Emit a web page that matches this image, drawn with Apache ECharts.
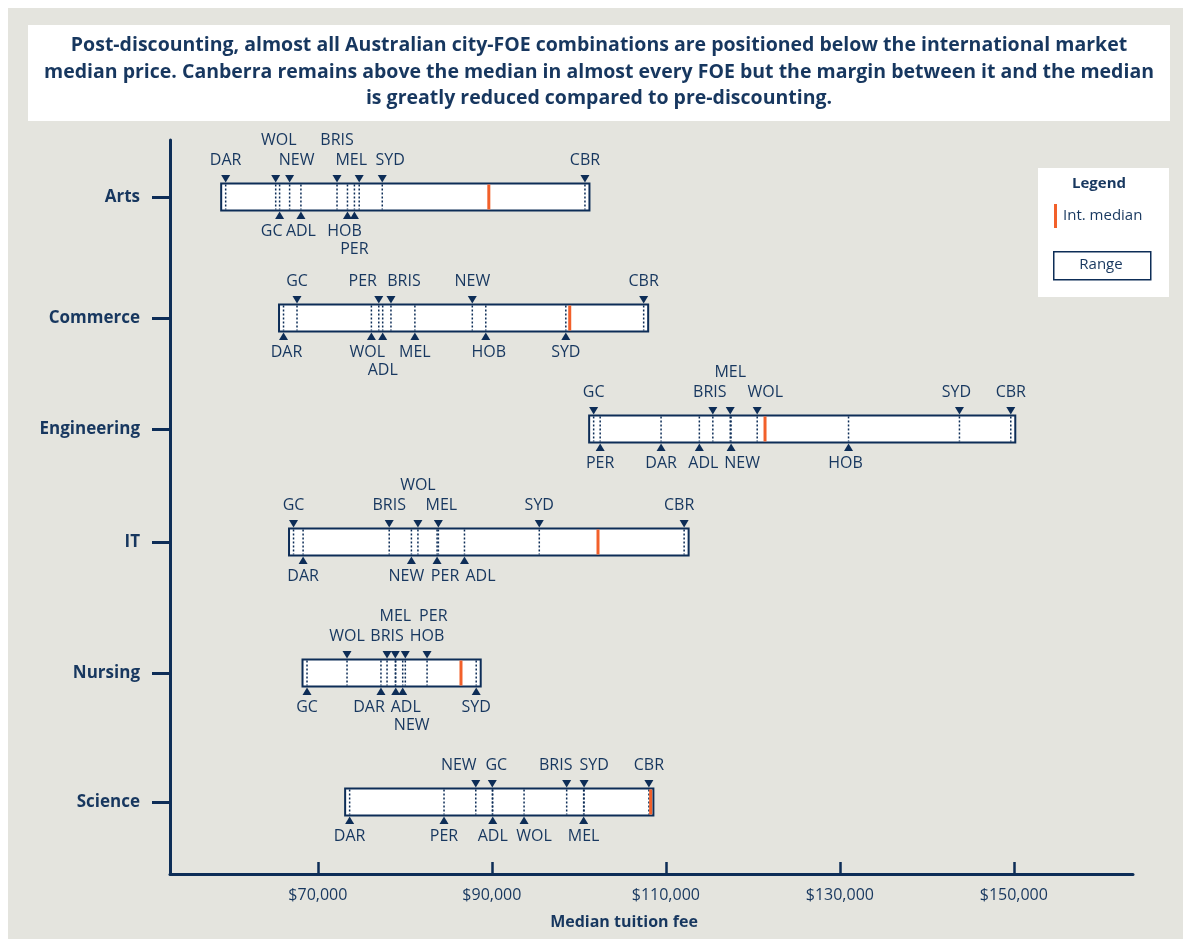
<!DOCTYPE html>
<html>
<head>
<meta charset="utf-8">
<script src="https://cdn.jsdelivr.net/npm/echarts@6/dist/echarts.min.js"></script>
<style>
  html, body { margin: 0; padding: 0; background: #ffffff; }
  #panel { position: absolute; left: 8px; top: 8px; right: 0; bottom: 0; background: #e4e4de; }
  #chart { position: absolute; left: 0; top: 0; width: 1183px; height: 939px; }
</style>
</head>
<body>
<div id="panel"></div>
<div id="chart"></div>
<script>
// Fields of education (rows) and the cities measured in each
const categories = ['Arts', 'Commerce', 'Engineering', 'IT', 'Nursing', 'Science'];
const cities = ['ADL', 'BRIS', 'CBR', 'DAR', 'GC', 'HOB', 'MEL', 'NEW', 'PER', 'SYD', 'WOL'];

// Post-discount median tuition fee per city (same order as `cities`), null = not offered
const artsFees        = [68050, 72200, 100700, 59400, 65600, 73400, 74750, 66750, 74200, 77400, 65150];
const commerceFees    = [77450, 78400, 107450, 66050, 67600, 89300, 81150, 87750, 77000, 98500, 76150];
const engineeringFees = [113850, 115400, 149650, 109450, 101700, 131000, 117400, 117500, 102450, 143750, 120500];
const itFees          = [86850, 78200, 112100, 68300, 67200, null, 83850, 80750, 83700, 95450, 81500];
const nursingFees     = [78950, 77950, null, 77250, 68750, 82550, 78900, 79750, 80050, 88200, 73350];
const scienceFees     = [90100, 98600, 108050, 73650, 90050, null, 100550, 88150, 84500, 100600, 93700];

// International market median price per field
const medianFees = [89650, 98950, 121400, 102200, 86450, 108250];

// Tick values on the fee axis
const feeTicks = [70000, 90000, 110000, 130000, 150000];

// ---- layout ----
// vertical placement of each field on the row axis
const ROW_POS = [0, 1, 1.917, 2.851, 3.934, 5];
// marker placement per city: u = above bar, d = below bar, digit = label tier, optional px nudge
const artsPlace        = ['d1', 'u2', 'u1', 'u1', 'd1-8', 'd1-3', 'u1-8', 'u1+7', 'd2', 'u1+8', 'u2+3'];
const commercePlace    = ['d2', 'u1+13', 'u1', 'd1+3', 'u1', 'd1+3', 'd1', 'u1', 'u1-16', 'd1', 'd1-4'];
const engineeringPlace = ['d1+4', 'u1-3', 'u1', 'd1', 'u1', 'd1-3', 'u2', 'd1+11', 'd1', 'u1-3', 'u1+8'];
const itPlace          = ['d1+16', 'u1', 'u1-5', 'd1', 'u1', 'd1', 'u1+3', 'd1-5', 'd1+8', 'u1', 'u2'];
const nursingPlace     = ['d1+10', 'u1', 'u1', 'd1-12', 'd1', 'u1', 'u2', 'd2+9', 'u2+28', 'd1', 'u1'];
const sciencePlace     = ['d1', 'u1-11', 'u1', 'd1', 'u1+4', 'd1', 'd1', 'u1-17', 'd1', 'u1+10', 'd1+10'];

const feesByRow = [artsFees, commerceFees, engineeringFees, itFees, nursingFees, scienceFees];
const placeByRow = [artsPlace, commercePlace, engineeringPlace, itPlace, nursingPlace, sciencePlace];

const NAVY = '#0d2d57';
const TEXT = '#17375f';
const ORANGE = '#f2602a';
const FONT = '"Open Sans", "Noto Sans", sans-serif';
const BAR_H = 27;
const PAD = 4.5;
const TIER_Y = { u1: -37, u2: -57, d1: 34, d2: 52 };

function parsePlace(code) {
  const m = code.match(/^([ud])(\d)([+-]\d+)?$/);
  return { key: m[1] + m[2], side: m[1], dx: m[3] ? parseInt(m[3], 10) : 0 };
}

function renderRow(params, api) {
  const r = api.value(2);
  const pos = ROW_POS[r];
  const fees = feesByRow[r];
  const places = placeByRow[r];
  const present = fees.filter(v => v != null);
  const lo = Math.min.apply(null, present);
  const hi = Math.max.apply(null, present);
  const pLo = api.coord([lo, pos]);
  const pHi = api.coord([hi, pos]);
  const yc = pLo[1];
  const h = BAR_H / 2;
  const children = [];

  // range box
  children.push({
    type: 'rect',
    shape: { x: pLo[0] - PAD, y: yc - h, width: pHi[0] - pLo[0] + 2 * PAD, height: BAR_H },
    style: { fill: '#ffffff', stroke: NAVY, lineWidth: 2 }
  });

  // dotted city lines
  fees.forEach(v => {
    if (v == null) return;
    const cx = api.coord([v, pos])[0];
    children.push({
      type: 'line',
      shape: { x1: cx, y1: yc - h + 1, x2: cx, y2: yc + h - 1 },
      style: { stroke: NAVY, lineWidth: 1.5, lineDash: [2, 2] }
    });
  });

  // international median
  const cm = api.coord([medianFees[r], pos])[0];
  children.push({
    type: 'rect',
    shape: { x: cm - 1.5, y: yc - h + 1, width: 3, height: BAR_H - 2 },
    style: { fill: ORANGE }
  });

  // markers and city labels
  fees.forEach((v, k) => {
    if (v == null) return;
    const cx = api.coord([v, pos])[0];
    const p = parsePlace(places[k]);
    let pts;
    if (p.side === 'u') {
      const yb = yc - h - 1;
      pts = [[cx - 4.5, yb - 7.5], [cx + 4.5, yb - 7.5], [cx, yb]];
    } else {
      const yt = yc + h + 1;
      pts = [[cx - 4.5, yt + 7.5], [cx + 4.5, yt + 7.5], [cx, yt]];
    }
    children.push({ type: 'polygon', shape: { points: pts }, style: { fill: NAVY } });
    children.push({
      type: 'text',
      style: {
        text: cities[k],
        x: cx + p.dx,
        y: yc + TIER_Y[p.key],
        align: 'center',
        verticalAlign: 'middle',
        fill: TEXT,
        fontSize: 16,
        fontFamily: FONT
      }
    });
  });

  return { type: 'group', children: children };
}

const chart = echarts.init(document.getElementById('chart'), null, { renderer: 'canvas' });

const titleText = 'Post-discounting, almost all Australian city-FOE combinations are positioned below the international market\n' +
  'median price. Canberra remains above the median in almost every FOE but the margin between it and the median\n' +
  'is greatly reduced compared to pre-discounting.';

chart.setOption({
  backgroundColor: 'transparent',
  animation: false,
  grid: { left: 170, right: 50, top: 140, bottom: 65, containLabel: false },
  xAxis: {
    type: 'value',
    min: 53000,
    max: 163700,
    splitLine: { show: false },
    axisLine: { show: true, onZero: false, lineStyle: { color: NAVY, width: 3 } },
    axisTick: { show: true, inside: true, length: 12, lineStyle: { color: NAVY, width: 2.5 }, customValues: feeTicks },
    axisLabel: {
      customValues: feeTicks,
      margin: 13,
      color: TEXT,
      fontSize: 16,
      fontFamily: FONT,
      formatter: v => '$' + Math.round(v).toLocaleString('en-US')
    }
  },
  yAxis: {
    type: 'value',
    inverse: true,
    min: -0.471,
    max: 5.595,
    splitLine: { show: false },
    axisLine: { show: true, onZero: false, lineStyle: { color: NAVY, width: 3 } },
    axisTick: { show: true, length: 18, lineStyle: { color: NAVY, width: 3 }, customValues: ROW_POS },
    axisLabel: {
      customValues: ROW_POS,
      margin: 30,
      color: TEXT,
      fontSize: 17,
      fontWeight: 'bold',
      fontFamily: FONT,
      formatter: v => {
        let best = 0;
        ROW_POS.forEach((p, i) => { if (Math.abs(p - v) < Math.abs(ROW_POS[best] - v)) best = i; });
        return categories[best];
      }
    }
  },
  series: [{
    type: 'custom',
    renderItem: renderRow,
    clip: false,
    encode: { x: 0, y: 1 },
    data: categories.map((c, i) => [medianFees[i], ROW_POS[i], i])
  }],
  graphic: [
    { type: 'rect', left: 28, top: 25, shape: { width: 1142, height: 96 }, style: { fill: '#ffffff' }, z: 1 },
    {
      type: 'text', x: 599, y: 72, z: 2,
      style: {
        text: titleText, align: 'center', verticalAlign: 'middle', lineHeight: 26.5,
        fill: TEXT, fontSize: 19.5, fontWeight: 'bold', fontFamily: FONT
      }
    },
    { type: 'rect', left: 1038, top: 168, shape: { width: 131, height: 129 }, style: { fill: '#ffffff' }, z: 1 },
    {
      type: 'text', x: 1099, y: 184, z: 2,
      style: { text: 'Legend', align: 'center', verticalAlign: 'middle', fill: TEXT, fontSize: 15, fontWeight: 'bold', fontFamily: FONT }
    },
    { type: 'rect', left: 1054, top: 204, shape: { width: 3, height: 24 }, style: { fill: ORANGE }, z: 2 },
    {
      type: 'text', x: 1063, y: 216, z: 2,
      style: { text: 'Int. median', align: 'left', verticalAlign: 'middle', fill: TEXT, fontSize: 15, fontFamily: FONT }
    },
    { type: 'rect', left: 1053, top: 251, shape: { width: 97, height: 28 }, style: { fill: '#ffffff', stroke: NAVY, lineWidth: 1.5 }, z: 2 },
    {
      type: 'text', x: 1101, y: 265, z: 3,
      style: { text: 'Range', align: 'center', verticalAlign: 'middle', fill: TEXT, fontSize: 15, fontFamily: FONT }
    },
    {
      type: 'text', x: 624, y: 922, z: 2,
      style: { text: 'Median tuition fee', align: 'center', verticalAlign: 'middle', fill: TEXT, fontSize: 16, fontWeight: 'bold', fontFamily: FONT }
    }
  ]
});
</script>
</body>
</html>
